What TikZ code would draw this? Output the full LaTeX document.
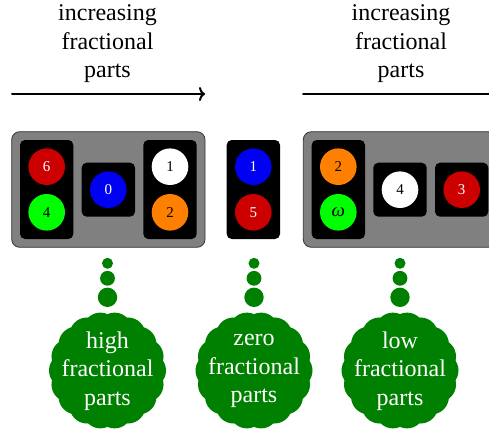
\documentclass[tikz,border=0pt]{standalone}
\usepackage{fontspec}
\setmainfont{Liberation Serif}
\usetikzlibrary{arrows.meta}
\definecolor{rrqqqq}{rgb}{0.8,0,0}
\definecolor{qqffqq}{rgb}{0,1,0}
\definecolor{qqqqff}{rgb}{0,0,0.95}
\definecolor{ffttqq}{rgb}{1,0.5,0}
\definecolor{qqttqq}{rgb}{0,0.5,0}
\definecolor{ttttdd}{rgb}{0.5,0.5,0.5}
\begin{document}
\begin{tikzpicture}[line cap=round,line join=round,x=1pt,y=-1pt,
  ball/.style={circle,minimum size=36.6pt,inner sep=0pt,font=\fontsize{15}{17}\selectfont},
  label/.style={align=center,font=\fontsize{24}{28.6}\selectfont},
  rack/.style={fill=black,rounded corners=5pt},
  tray/.style={fill=ttttdd,draw=black!80,line width=0.8pt,rounded corners=8pt}]
\clip (0,0) rectangle (489,433);
\useasboundingbox (0,0) rectangle (489,433);
% top labels
\node[label] (tl) at (107.5,44) {increasing\\fractional\\parts};
\node[label] (tr) at (401,44) {increasing\\fractional\\parts};
\coordinate (a1) at (12,94);
\coordinate (a2) at (205,94);
\coordinate (a3) at (303,94);
\coordinate (a4) at (489,94);
\draw [line width=2pt,-{To[length=6pt,width=14pt]}] (a1)-- (a2);
\draw [line width=2pt] (a3)-- (a4);
% trays and racks
\draw [tray] (11.7,131.7) rectangle (205,247.3);
\draw [tray] (303.3,131.7) rectangle (496,247.3);
\fill [rack] (20,140) rectangle (73.3,239);
\fill [rack] (81.7,162.7) rectangle (135,216.7);
\fill [rack] (143.3,140) rectangle (196.7,239);
\fill [rack] (226.7,140) rectangle (280,239);
\fill [rack] (311.7,140) rectangle (365,239);
\fill [rack] (373.3,162.7) rectangle (426.7,216.7);
\fill [rack] (435,162.7) rectangle (488.3,216.7);
% balls
\node[ball,fill=rrqqqq,text=white] (b6) at (46.7,166.7) {6};
\node[ball,fill=qqffqq] (b4) at (46.7,212.3) {4};
\node[ball,fill=qqqqff,text=white] (b0) at (108.3,189.7) {0};
\node[ball,fill=white] (b1) at (170,166.7) {1};
\node[ball,fill=ffttqq] (b2) at (170,212.3) {2};
\node[ball,fill=qqqqff,text=white] (c1) at (253.3,166.7) {1};
\node[ball,fill=rrqqqq,text=white] (c5) at (253.3,212.3) {5};
\node[ball,fill=ffttqq] (d2) at (338.3,166.7) {2};
\node[ball,fill=qqffqq,font=\fontsize{19}{19}\selectfont] (dw) at (338.3,212.3) {\textit{ω}};
\node[ball,fill=white] (d4) at (400,189.7) {4};
\node[ball,fill=rrqqqq,text=white] (d3) at (461.7,189.7) {3};
% thought bubbles
\foreach \x/\t [count=\i] in {107.5/{high\\fractional\\parts},254/{zero\\fractional\\parts},400/{low\\fractional\\parts}} {
  \fill[qqttqq] (\x,263.3) circle (5.5);
  \fill[qqttqq] (\x,278.3) circle (7.4);
  \fill[qqttqq] (\x,297.3) circle (9.7);
  \fill[qqttqq] (\x,370.5) circle (42);
  \foreach \a in {0,20,...,340}
    \fill[qqttqq] (\x,370.5) ++(\a:41) circle (17.5);
  \node[label,text=white] (f\i) at (\x,371) {\t};
}
\end{tikzpicture}
\end{document}
